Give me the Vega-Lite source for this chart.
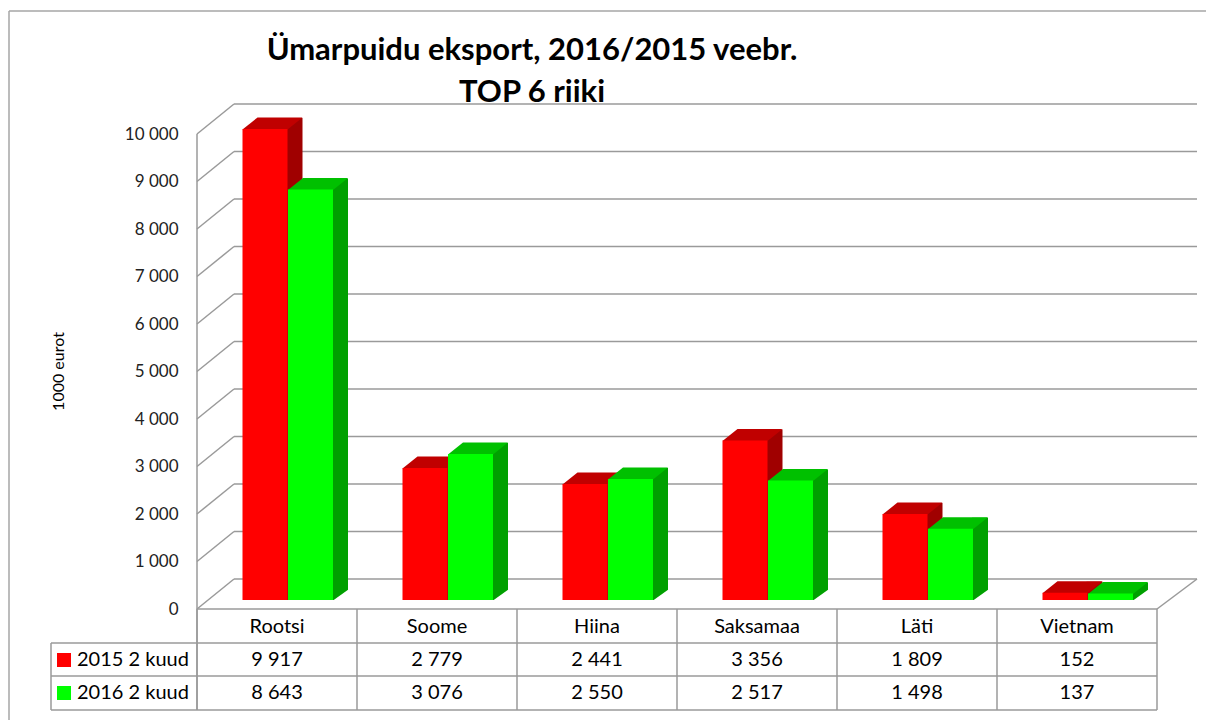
{
  "$schema": "https://vega.github.io/schema/vega-lite/v6.json",
  "autosize": "none",
  "padding": {"left": 197, "top": 134, "right": 49, "bottom": 111},
  "width": 960,
  "height": 475,
  "background": "white",
  "config": {
    "view": {"stroke": null},
    "font": "Lato",
    "locale": {"number": {"decimal": ",", "thousands": " ", "grouping": [3], "currency": ["", " €"]}}
  },
  "title": {
    "text": ["Ümarpuidu eksport, 2016/2015 veebr.", "TOP 6 riiki"],
    "font": "Lato",
    "fontSize": 31,
    "fontWeight": "bold",
    "color": "#000000",
    "anchor": "middle",
    "frame": "group",
    "dx": -145,
    "dy": 127,
    "offset": 28,
    "lineHeight": 42
  },
  "datasets": {
    "countries": [
      {"country": "Rootsi", "v2015": 9917, "v2016": 8643},
      {"country": "Soome", "v2015": 2779, "v2016": 3076},
      {"country": "Hiina", "v2015": 2441, "v2016": 2550},
      {"country": "Saksamaa", "v2015": 3356, "v2016": 2517},
      {"country": "Läti", "v2015": 1809, "v2016": 1498},
      {"country": "Vietnam", "v2015": 152, "v2016": 137}
    ],
    "ticks": [
      {"v": 0}, {"v": 1000}, {"v": 2000}, {"v": 3000}, {"v": 4000}, {"v": 5000},
      {"v": 6000}, {"v": 7000}, {"v": 8000}, {"v": 9000}, {"v": 10000}
    ],
    "one": [{"k": 1}]
  },
  "data": {"name": "countries"},
  "encoding": {
    "x": {
      "field": "country",
      "type": "nominal",
      "sort": null,
      "scale": {"domain": ["Rootsi", "Soome", "Hiina", "Saksamaa", "Läti", "Vietnam"], "paddingInner": 0, "paddingOuter": 0},
      "axis": {
        "title": null,
        "domain": false,
        "ticks": false,
        "tickSize": 0,
        "grid": false,
        "labelAngle": 0,
        "labelFont": "Lato",
        "labelFontSize": 20,
        "labelColor": "#000000",
        "labelBaseline": "middle",
        "labelPadding": 17
      }
    }
  },
  "layer": [
    {
      "data": {"name": "ticks"},
      "mark": {"type": "rule", "color": "#9a9a9a", "strokeWidth": 1.5, "xOffset": 37, "x2Offset": 40, "yOffset": -30},
      "encoding": {
        "x": {"datum": "Rootsi", "bandPosition": 0},
        "x2": {"datum": "Vietnam", "bandPosition": 1},
        "y": {
          "field": "v",
          "type": "quantitative",
          "title": "1000 eurot",
          "scale": {"domain": [0, 10000], "nice": false},
          "axis": {
            "title": "1000 eurot",
            "titleFont": "Lato",
            "titleFontSize": 16,
            "titleFontWeight": "normal",
            "titleColor": "#000000",
            "titleX": -139,
            "titleY": 237,
            "titleBaseline": "middle",
            "titleAngle": -90,
            "values": [0, 1000, 2000, 3000, 4000, 5000, 6000, 7000, 8000, 9000, 10000],
            "format": ",d",
            "domain": false,
            "ticks": false,
            "tickSize": 0,
            "grid": false,
            "labelFont": "Lato",
            "labelFontSize": 17,
            "labelColor": "#222222",
            "labelPadding": 19
          }
        }
      }
    },
    {
      "data": {"name": "ticks"},
      "mark": {"type": "rule", "color": "#9a9a9a", "strokeWidth": 1.5, "x2Offset": 37, "y2Offset": -30},
      "encoding": {
        "x": {"datum": "Rootsi", "bandPosition": 0},
        "x2": {"datum": "Rootsi", "bandPosition": 0},
        "y": {"field": "v", "type": "quantitative", "title": "1000 eurot"},
        "y2": {"field": "v"}
      }
    },
    {
      "data": {"name": "one"},
      "mark": {"type": "rule", "color": "#9a9a9a", "strokeWidth": 1.5, "x2Offset": 40, "y2Offset": -30},
      "encoding": {
        "x": {"datum": "Vietnam", "bandPosition": 1},
        "x2": {"datum": "Vietnam", "bandPosition": 1},
        "y": {"datum": 0, "title": "1000 eurot"},
        "y2": {"datum": 0}
      }
    },
    {
      "data": {"name": "one"},
      "mark": {"type": "rule", "color": "#9a9a9a", "strokeWidth": 1.5, "y2Offset": 101},
      "encoding": {
        "x": {"datum": "Rootsi", "bandPosition": 0},
        "y": {"datum": 10000, "title": "1000 eurot"},
        "y2": {"datum": 0}
      }
    },
    {
      "mark": {"type": "rule", "color": "#9a9a9a", "strokeWidth": 1.5, "y2Offset": 101},
      "encoding": {
        "x": {"field": "country", "type": "nominal", "bandPosition": 0},
        "y": {"datum": 0, "title": "1000 eurot"},
        "y2": {"datum": 0}
      }
    },
    {
      "data": {"name": "one"},
      "mark": {"type": "rule", "color": "#9a9a9a", "strokeWidth": 1.5, "y2Offset": 101},
      "encoding": {
        "x": {"datum": "Vietnam", "bandPosition": 1},
        "y": {"datum": 0, "title": "1000 eurot"},
        "y2": {"datum": 0}
      }
    },
    {
      "data": {"name": "one"},
      "mark": {"type": "rule", "color": "#9a9a9a", "strokeWidth": 1.5, "xOffset": -146, "yOffset": 34, "y2Offset": 101},
      "encoding": {
        "x": {"datum": "Rootsi", "bandPosition": 0},
        "y": {"datum": 0, "title": "1000 eurot"},
        "y2": {"datum": 0}
      }
    },
    {
      "data": {"name": "one"},
      "mark": {"type": "rule", "color": "#9a9a9a", "strokeWidth": 1.5},
      "encoding": {
        "x": {"datum": "Rootsi", "bandPosition": 0},
        "x2": {"datum": "Vietnam", "bandPosition": 1},
        "y": {"datum": 0, "title": "1000 eurot"}
      }
    },
    {
      "data": {"name": "one"},
      "mark": {"type": "rule", "color": "#9a9a9a", "strokeWidth": 1.5, "xOffset": -146, "yOffset": 34},
      "encoding": {
        "x": {"datum": "Rootsi", "bandPosition": 0},
        "x2": {"datum": "Vietnam", "bandPosition": 1},
        "y": {"datum": 0, "title": "1000 eurot"}
      }
    },
    {
      "data": {"name": "one"},
      "mark": {"type": "rule", "color": "#9a9a9a", "strokeWidth": 1.5, "xOffset": -146, "yOffset": 67},
      "encoding": {
        "x": {"datum": "Rootsi", "bandPosition": 0},
        "x2": {"datum": "Vietnam", "bandPosition": 1},
        "y": {"datum": 0, "title": "1000 eurot"}
      }
    },
    {
      "data": {"name": "one"},
      "mark": {"type": "rule", "color": "#9a9a9a", "strokeWidth": 1.5, "xOffset": -146, "yOffset": 101},
      "encoding": {
        "x": {"datum": "Rootsi", "bandPosition": 0},
        "x2": {"datum": "Vietnam", "bandPosition": 1},
        "y": {"datum": 0, "title": "1000 eurot"}
      }
    },
    {
      "data": {"name": "one"},
      "mark": {"type": "rule", "color": "#a6a6a6", "strokeWidth": 1.5, "xOffset": -188, "x2Offset": 49, "yOffset": -123},
      "encoding": {
        "x": {"datum": "Rootsi", "bandPosition": 0},
        "x2": {"datum": "Vietnam", "bandPosition": 1},
        "y": {"datum": 10000, "title": "1000 eurot"}
      }
    },
    {
      "data": {"name": "one"},
      "mark": {"type": "rule", "color": "#a6a6a6", "strokeWidth": 1.5, "xOffset": -188, "yOffset": -123, "y2Offset": 111},
      "encoding": {
        "x": {"datum": "Rootsi", "bandPosition": 0},
        "y": {"datum": 10000, "title": "1000 eurot"},
        "y2": {"datum": 0}
      }
    },
    {
      "mark": {"type": "bar", "color": "#A00000", "width": {"band": 0.1}, "xOffset": 17.5, "yOffset": -20, "y2Offset": -9},
      "encoding": {
        "y": {"field": "v2015", "type": "quantitative", "title": "1000 eurot"},
        "y2": {"datum": 0}
      }
    },
    {
      "mark": {"type": "point", "shape": "M-1,0.2L0.5,0.2L1,-0.2L-0.5,-0.2Z", "size": 3600, "filled": true, "opacity": 1, "color": "#C00000", "strokeWidth": 0, "xOffset": -4.5, "yOffset": -14.5},
      "encoding": {
        "y": {"field": "v2015", "type": "quantitative", "title": "1000 eurot"}
      }
    },
    {
      "mark": {"type": "bar", "width": {"band": 0.28125}, "xOffset": -12, "yOffset": -9, "y2Offset": -9},
      "encoding": {
        "y": {"field": "v2015", "type": "quantitative", "title": "1000 eurot"},
        "y2": {"datum": 0},
        "color": {
          "datum": "2015 2 kuud",
          "type": "nominal",
          "scale": {"domain": ["2015 2 kuud", "2016 2 kuud"], "range": ["#FF0000", "#00FF00"]},
          "legend": {
            "title": null,
            "orient": "none",
            "legendX": -143,
            "legendY": 516,
            "direction": "vertical",
            "symbolType": "square",
            "symbolSize": 196,
            "symbolStrokeWidth": 0,
            "labelFont": "Lato",
            "labelFontSize": 20,
            "labelColor": "#000000",
            "labelOffset": 3,
            "rowPadding": 13,
            "padding": 0
          }
        }
      }
    },
    {
      "mark": {"type": "bar", "color": "#00A000", "width": {"band": 0.1}, "xOffset": 63, "yOffset": -20, "y2Offset": -9},
      "encoding": {
        "y": {"field": "v2016", "type": "quantitative", "title": "1000 eurot"},
        "y2": {"datum": 0}
      }
    },
    {
      "mark": {"type": "point", "shape": "M-1,0.2L0.5,0.2L1,-0.2L-0.5,-0.2Z", "size": 3600, "filled": true, "opacity": 1, "color": "#00C000", "strokeWidth": 0, "xOffset": 41, "yOffset": -14.5},
      "encoding": {
        "y": {"field": "v2016", "type": "quantitative", "title": "1000 eurot"}
      }
    },
    {
      "mark": {"type": "bar", "width": {"band": 0.28125}, "xOffset": 33.5, "yOffset": -9, "y2Offset": -9},
      "encoding": {
        "y": {"field": "v2016", "type": "quantitative", "title": "1000 eurot"},
        "y2": {"datum": 0},
        "color": {"datum": "2016 2 kuud", "type": "nominal"}
      }
    },
    {
      "mark": {"type": "point", "shape": "M-1,0.75L1.1,0.75L1.1,-0.75Z", "size": 256, "filled": true, "opacity": 1, "color": "#FFFFFF", "strokeWidth": 0, "xOffset": 64, "yOffset": -14.5},
      "encoding": {
        "y": {"datum": 0, "title": "1000 eurot"}
      }
    },
    {
      "mark": {"type": "text", "font": "Lato", "fontSize": 20, "color": "#000000", "baseline": "middle", "align": "center", "yOffset": 51},
      "encoding": {
        "y": {"datum": 0, "title": "1000 eurot"},
        "text": {"field": "v2015", "type": "quantitative", "format": ",d"}
      }
    },
    {
      "mark": {"type": "text", "font": "Lato", "fontSize": 20, "color": "#000000", "baseline": "middle", "align": "center", "yOffset": 84},
      "encoding": {
        "y": {"datum": 0, "title": "1000 eurot"},
        "text": {"field": "v2016", "type": "quantitative", "format": ",d"}
      }
    }
  ]
}
